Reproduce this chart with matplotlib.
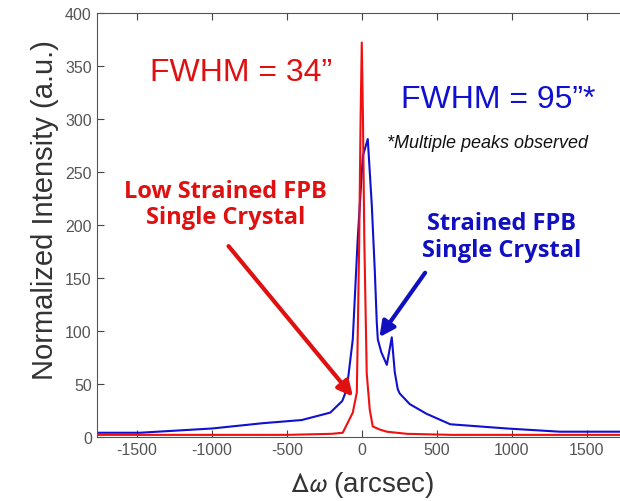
import numpy as np
import matplotlib
matplotlib.use('Agg')
import matplotlib.pyplot as plt

plt.rcParams['font.family'] = ['Liberation Sans', 'DejaVu Sans']
plt.rcParams['mathtext.fontset'] = 'stixsans'
plt.rcParams['axes.unicode_minus'] = False

# strained crystal (blue)
blue_x = [-1770, -1480, -1000, -660, -400, -210, -130, -100, -60, -27, 7, 40,
          67, 87, 100, 107, 130, 167, 200, 220, 240, 253, 320, 430, 590, 970, 1320, 1770]
blue_y = [4, 4, 8, 13, 16, 23, 34, 45, 92, 187, 265, 281,
          218, 156, 108, 92, 80, 68, 94, 61, 45, 41, 31, 22, 12, 8, 5, 5]

# low strained crystal (red)
red_x = [-1770, -1000, -500, -200, -127, -60, -33, -17, -8, 0, 8, 17,
         33, 53, 73, 120, 167, 300, 600, 1000, 1770]
red_y = [2, 2, 2, 3, 4, 23, 42, 185, 300, 372, 300, 185,
         60, 26, 10, 7, 5, 3, 2, 2, 2]

xticks = [-1500, -1000, -500, 0, 500, 1000, 1500]
yticks = list(range(0, 401, 50))

fig = plt.figure(figsize=(6.2, 5.02), dpi=100)
ax = fig.add_axes([0.156, 0.1275, 0.863, 0.845])

ax.plot(blue_x, blue_y, color='#1010d0', lw=1.5)
ax.plot(red_x, red_y, color='#f01010', lw=1.5)

ax.set_xlim(-1767, 1800)
ax.set_ylim(0, 400)
ax.set_xticks(xticks)
ax.set_yticks(yticks)
ax.tick_params(direction='in', length=5, top=True, right=True,
               labelsize=11.5, labelcolor='#555555', color='#444444')
for s in ax.spines.values():
    s.set_color('#555555')

fig.text(45 / 620, 1 - 210 / 502, 'Normalized Intensity (a.u.)', fontsize=21,
         color='#333333', rotation=90, ha='center', va='center')
fig.text(362 / 620, 1 - 485 / 502, r'$\Delta\omega$ (arcsec)', fontsize=20,
         color='#333333', ha='center', va='center')

ax.text(-807, 344, 'FWHM = 34\u201d', color='#e01010', fontsize=23, ha='center', va='center')
ax.text(907, 319, 'FWHM = 95\u201d*', color='#1010d0', fontsize=23, ha='center', va='center')
ax.text(840, 278, '*Multiple peaks observed', color='#111111', fontsize=13,
        style='italic', ha='center', va='center')
ax.text(-907, 220, 'Low Strained FPB\nSingle Crystal', color='#e01010', fontsize=17,
        family='Open Sans', fontweight='bold', ha='center', va='center', linespacing=1.1)
ax.text(933, 189, 'Strained FPB\nSingle Crystal', color='#1010c0', fontsize=17,
        family='Open Sans', fontweight='bold', ha='center', va='center', linespacing=1.15)

ax.annotate('', xy=(-47, 36), xytext=(-900, 182),
            arrowprops=dict(arrowstyle='-|>,head_length=0.9,head_width=0.45',
                            color='#e01010', lw=3))
ax.annotate('', xy=(107, 92), xytext=(433, 157),
            arrowprops=dict(arrowstyle='-|>,head_length=0.9,head_width=0.45',
                            color='#1010c0', lw=3))

fig.savefig('out.png', dpi=100)
